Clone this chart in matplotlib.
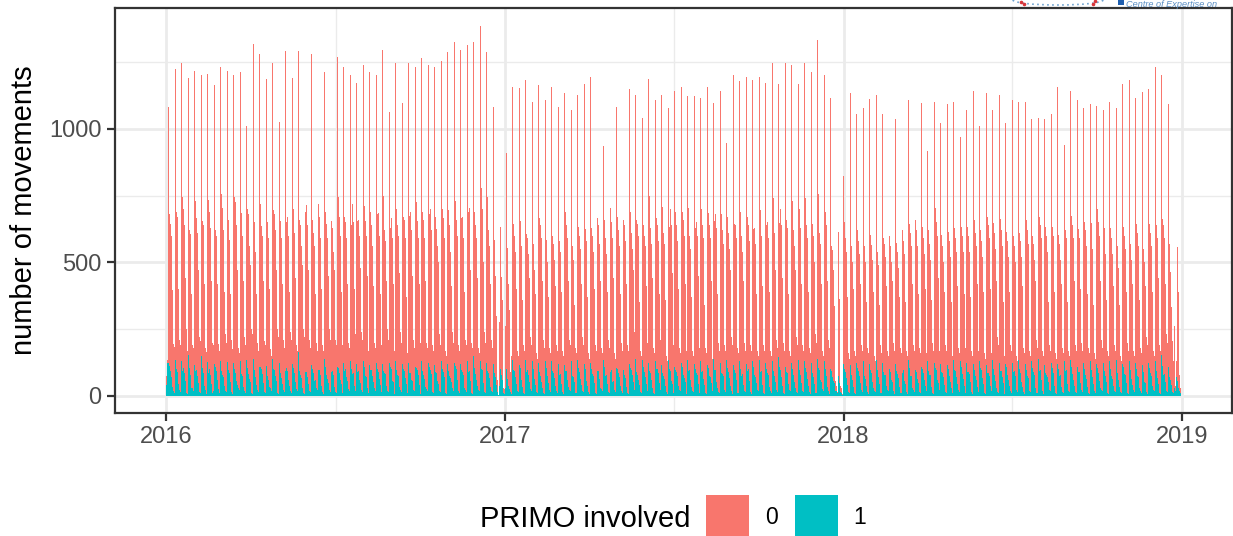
import numpy as np
import pandas as pd
import matplotlib
matplotlib.use("Agg")
import matplotlib.pyplot as plt
from matplotlib.patches import Rectangle, Arc
from matplotlib.lines import Line2D

plt.rcParams['font.family'] = ['Liberation Sans', 'DejaVu Sans']

# first days of 2016 (Fri, Sat, Sun) then weekly columns starting on Monday 2016-01-04
head_total = [5, 76, 135]
head_primo = [0, 40, 125]
total_mon = [1080,1222,1248,1191,1218,1203,1206,1162,1231,1218,1200,1212,1012,
1318,1278,1188,1248,1024,1290,1191,1290,1076,1278,1237,1211,1140,
1267,1230,1200,1173,1237,1211,1200,1296,1061,1248,1095,1245,1233,
1263,1237,1233,1252,1286,1323,1293,1312,1323,1383,1286,1080,275,
911,1155,1151,1181,1099,1162,1106,1155,1080,1132,1072,1128,1166,
1192,1102,937,1192,1080,1185,1147,1125,1039,1185,1106,1128,1076,
1143,1158,1121,1121,1117,1155,1095,1140,945,1200,1177,1192,1181,
1192,1170,1248,1166,1248,1237,1166,1248,1211,1334,1200,1117,14,
825,1132,1054,1076,1110,1128,1054,1114,1035,1005,1106,1005,1095,
915,1099,1020,1091,1102,971,1072,1143,1012,1132,1072,1125,1021,
1106,1099,1102,1035,1042,1035,1057,1158,941,1143,1106,1076,1091,
1084,1072,1099,1076,1166,1181,1114,1136,1147,1230,1200,1091,260,473]
total_tue = [681,690,745,620,730,655,735,620,755,660,745,685,700,
650,720,660,695,680,650,700,660,690,660,720,690,655,
745,670,640,655,710,690,680,750,630,700,670,672,725,
690,682,668,700,695,730,665,688,690,780,745,585,634,
553,642,653,607,567,667,582,597,615,687,589,632,653,
627,667,660,705,669,657,687,660,638,747,667,709,634,
690,687,705,627,700,683,653,680,669,642,687,668,624,
695,638,739,649,657,728,698,739,642,754,690,563,612,
650,604,620,601,601,569,593,597,574,620,645,657,634,
620,702,604,615,630,632,632,657,620,670,649,664,615,
597,608,657,600,668,632,634,601,620,672,626,652,649,
698,630,627,560,634,593,642,582,642,690,664,615,38]
total_wed = [642,668,700,605,665,640,690,600,705,640,725,660,680,
610,635,650,680,655,670,700,640,715,610,670,645,630,
670,650,720,660,655,640,685,620,665,640,660,690,655,
660,700,625,665,640,660,670,705,640,700,620,450,444,
500,600,620,590,550,640,555,570,580,640,560,600,625,
600,640,590,650,620,640,610,645,600,630,640,610,700,
640,660,600,650,640,640,680,620,610,640,600,640,630,
600,650,610,700,630,620,680,640,660,610,690,545,503,
590,560,580,560,565,540,570,560,540,580,610,620,590,
570,650,560,580,590,600,600,610,580,640,610,620,580,
560,580,620,570,640,600,600,570,590,640,590,620,610,
650,590,590,530,600,570,610,550,610,640,640,570,130]
total_thu = [597,600,640,570,610,590,630,560,620,585,640,600,560,
540,600,590,620,590,600,610,560,640,560,590,590,540,
600,590,650,600,600,560,600,580,590,600,590,620,590,
590,620,560,590,540,600,590,640,590,630,560,400,360,
420,540,560,530,470,590,500,510,540,590,510,550,580,
540,570,530,590,560,580,550,600,560,570,580,570,640,
580,600,550,600,590,590,630,570,550,590,540,580,570,
560,590,560,640,580,560,630,590,600,570,640,470,363,
540,500,530,500,510,490,520,500,480,530,560,560,530,
510,600,500,520,540,540,540,560,520,590,550,560,520,
500,520,570,510,590,540,540,510,530,590,530,560,550,
600,530,530,480,550,510,560,500,560,590,590,463,559]
total_fri = [395,400,440,380,470,420,430,420,390,380,470,430,490,
380,430,400,470,420,390,440,490,470,380,400,450,470,
390,420,400,480,450,410,380,430,420,460,370,450,420,
430,410,500,380,410,440,390,470,440,500,420,300,30,
320,400,360,440,380,430,370,410,390,430,340,420,370,
400,430,390,440,380,420,470,350,410,440,380,360,460,
400,420,370,450,340,430,380,390,470,360,430,400,380,
410,390,470,440,380,470,420,390,500,420,430,338,38,
370,400,420,350,390,340,410,430,370,350,420,380,400,
360,440,390,350,410,380,370,420,390,400,430,350,390,
370,410,380,430,360,350,390,420,350,430,400,380,340,
430,360,410,340,390,420,360,410,390,440,420,332,390]
total_sat = [195,210,250,190,220,180,200,195,230,210,180,220,250,
200,205,175,250,210,240,190,250,210,200,190,250,210,
190,200,230,240,170,200,190,250,190,240,180,210,240,
200,190,230,170,240,190,210,200,180,240,210,60,25,
90,170,190,220,160,210,180,190,170,210,180,220,160,
190,180,210,160,200,190,240,170,200,180,210,150,220,
180,200,170,210,180,160,200,190,220,180,200,190,170,
190,170,210,200,170,220,190,180,230,170,210,57,30,
160,170,190,180,150,190,170,200,180,170,190,180,160,
200,170,190,150,180,210,170,190,160,180,220,170,190,
150,180,170,210,170,190,160,180,170,190,200,180,160,
210,170,190,150,200,170,180,220,170,190,230,207,80]
total_sun = [182,190,170,180,205,165,190,170,200,175,160,190,230,
170,190,150,220,180,210,170,220,180,170,170,210,190,
170,180,190,210,150,180,170,210,170,200,160,180,200,
180,170,190,150,200,170,190,180,160,200,180,5,260,
150,150,170,190,140,180,160,170,150,190,160,190,140,
170,160,180,140,170,170,200,150,170,160,180,130,190,
160,170,150,180,160,140,170,170,190,160,170,170,150,
170,150,180,170,150,190,170,160,200,150,180,38,7,
140,150,170,160,130,160,150,170,160,150,170,160,140,
170,150,170,130,160,180,150,170,140,160,190,150,170,
130,160,150,180,150,170,140,160,150,170,170,160,140,
180,150,170,130,170,150,160,190,150,170,200,132,30]

primo_mon = [125,135,130,155,115,150,128,120,130,128,125,130,135,
140,110,113,140,125,95,118,165,113,115,128,138,130,
110,125,130,120,130,115,125,120,125,130,120,125,110,
130,125,115,130,120,125,118,130,150,130,125,120,38,
100,135,115,135,130,125,130,130,120,115,130,135,120,
125,115,135,130,105,130,120,140,135,125,130,115,135,
110,125,135,120,130,115,140,125,135,115,130,120,130,
135,125,130,145,110,125,135,130,125,140,130,100,10,
120,115,125,130,120,135,125,110,120,130,135,125,110,
130,125,120,115,135,130,125,120,130,115,135,125,120,
125,135,120,130,140,115,125,120,130,135,110,125,130,
120,125,130,135,120,130,125,115,125,130,155,110,30,60]
primo_tue = [112,100,95,104,92,105,86,110,92,96,100,82,105,
98,108,90,100,95,104,110,92,88,100,96,110,90,
105,94,100,88,108,96,100,92,110,98,100,86,104,
95,108,90,102,94,112,96,88,106,100,92,84,100,
62,96,104,90,100,88,106,94,100,92,86,104,96,
100,92,108,88,100,96,104,90,110,94,100,86,102,
96,108,92,100,90,106,98,86,104,96,100,92,108,
88,100,94,110,90,100,96,104,86,106,100,92,75,
100,92,104,88,96,108,90,100,94,86,106,96,100,
92,104,88,100,96,110,90,98,104,86,100,94,108,
90,100,96,104,92,86,106,100,94,108,88,100,96,
104,92,100,86,108,94,100,90,106,98,112,92,20]
primo_wed = [95,88,104,80,96,84,100,92,78,98,86,94,82,
88,100,76,96,84,92,104,80,90,86,98,78,94,
86,100,82,92,76,96,88,84,100,78,92,86,96,
80,98,84,90,76,100,88,94,82,96,84,72,80,
54,92,78,96,84,74,98,86,80,94,76,88,100,
82,92,74,96,86,80,98,78,90,84,100,76,92,
88,78,98,84,92,76,96,82,90,86,74,100,80,
92,84,76,98,86,78,94,88,80,96,74,72,60,
90,80,94,76,86,98,78,88,82,96,74,90,84,
78,96,86,74,92,82,88,76,98,84,80,92,78,
94,84,76,90,98,80,86,74,96,82,88,78,92,
84,94,76,88,82,98,74,90,86,94,80,70,70]
primo_thu = [70,62,84,58,74,66,80,60,72,84,56,76,64,
70,82,58,74,66,60,86,68,72,56,78,64,80,
60,72,84,58,70,76,62,82,56,74,68,60,78,
64,82,56,72,68,60,80,74,58,84,66,56,60,
36,70,60,78,62,54,74,66,82,58,72,64,56,
76,62,80,54,70,66,78,58,72,60,84,64,56,
74,66,58,80,62,72,54,76,68,60,82,56,70,
64,78,58,72,66,54,80,62,70,58,76,56,50,
66,58,76,62,54,72,80,60,68,56,74,64,58,
78,60,70,54,72,64,82,58,68,76,56,70,60,
74,54,66,78,60,70,56,80,64,58,74,62,70,
56,76,64,58,80,62,70,54,76,66,82,60,55]
primo_fri = [34,44,56,30,50,38,46,58,36,52,42,32,54,
40,48,34,56,44,36,52,30,46,58,38,50,34,
44,56,36,48,30,52,42,38,54,34,46,56,40,
32,50,44,36,54,42,30,56,38,48,34,40,10,
26,44,34,52,40,30,50,38,46,32,54,42,36,
48,30,44,56,38,34,52,40,46,30,50,36,44,
38,54,32,46,40,50,30,44,36,52,42,34,48,
40,32,52,38,46,30,50,36,44,54,34,50,15,
42,32,50,38,30,46,36,52,34,44,30,48,38,
34,50,40,30,46,36,52,32,44,38,30,50,36,
44,34,48,30,42,52,36,32,46,38,50,34,44,
30,52,38,34,48,42,30,50,36,44,52,42,30]
primo_sat = [18,24,12,30,16,22,10,26,18,14,28,20,12,
24,16,30,12,22,18,26,10,20,28,14,24,16,
12,26,18,22,10,28,16,20,14,24,12,22,18,
26,14,20,10,28,18,22,12,24,16,20,15,8,
14,20,12,26,16,10,24,18,14,22,12,20,16,
10,26,14,22,18,12,24,16,20,10,22,14,18,
24,12,20,16,10,26,14,22,18,12,20,16,24,
12,18,22,10,24,14,20,16,12,26,18,20,10,
16,10,22,14,20,12,24,18,10,16,22,14,20,
12,24,16,10,22,18,14,20,12,24,16,10,18,
22,14,20,12,18,24,10,16,20,14,22,12,18,
24,10,20,16,12,22,18,14,24,10,20,16,18,25]
primo_sun = [10,16,8,20,12,6,18,10,14,8,22,12,6,
16,10,20,8,14,12,18,6,14,22,8,16,10,
6,18,12,14,8,20,10,16,6,14,12,18,8,
20,10,14,6,18,12,16,8,20,10,14,3,30,
8,14,6,20,10,8,16,12,6,18,10,14,8,
6,20,10,14,12,8,18,10,14,6,16,8,12,
18,6,14,10,8,20,12,16,6,10,14,8,18,
6,12,16,8,18,10,14,6,12,20,8,20,3,
12,6,16,8,14,10,18,6,12,8,16,10,14,
8,18,10,6,16,12,8,14,6,18,10,8,12,
16,6,14,10,8,18,6,12,16,10,14,8,12,
18,6,14,10,8,16,12,6,18,8,14,10,12,15]

weekly_total = [total_mon, total_tue, total_wed, total_thu, total_fri, total_sat, total_sun]
weekly_primo = [primo_mon, primo_tue, primo_wed, primo_thu, primo_fri, primo_sat, primo_sun]

legend_title = "PRIMO involved"
legend_labels = ["0", "1"]
year_ticks = ["2016-01-01", "2017-01-01", "2018-01-01", "2019-01-01"]
year_labels = ["2016", "2017", "2018", "2019"]
mid_ticks = ["2016-07-02", "2017-07-02", "2018-07-02"]

RED, TEAL = "#F8766D", "#00BFC4"
W, H = 1233, 536


def flatten(head, columns):
    vals = list(head)
    for i in range(len(columns[0])):
        for col in columns:
            if i < len(col):
                vals.append(col[i])
    return vals


total = flatten(head_total, weekly_total)[:1096]
primo = flatten(head_primo, weekly_primo)[:1096]
dates = pd.date_range("2016-01-01", periods=len(total), freq="D")

fig = plt.figure(figsize=(W / 100, H / 100), dpi=100, facecolor="white")
ax = fig.add_axes([115 / W, 1 - 412.5 / H, (1232 - 115) / W, (412.5 - 8) / H])
ax.set_axisbelow(True)
ax.bar(dates, total, width=1.0, color=RED, linewidth=0, align="center", zorder=2, antialiased=False)
ax.bar(dates, primo, width=1.0, color=TEAL, linewidth=0, align="center", zorder=3, antialiased=False)

ax.set_xlim(pd.Timestamp("2016-01-01") - pd.Timedelta(days=55), pd.Timestamp("2016-01-01") + pd.Timedelta(days=1150))
ax.set_ylim(-62, 1452)
ax.set_xticks(pd.to_datetime(year_ticks))
ax.set_xticklabels(year_labels)
ax.set_xticks(pd.to_datetime(mid_ticks), minor=True)
ax.set_yticks([0, 500, 1000])
ax.set_yticks([250, 750, 1250], minor=True)
ax.grid(True, which="major", color="#EBEBEB", linewidth=2.0, zorder=0)
ax.grid(True, which="minor", color="#EBEBEB", linewidth=1.0, zorder=0)
ax.tick_params(which="major", length=5.8, width=1.6, color="#333333", labelcolor="#4D4D4D", labelsize=17, pad=4)
ax.tick_params(which="minor", length=0)
for s in ax.spines.values():
    s.set_color("#333333")
    s.set_linewidth(1.6)
ax.set_ylabel("number of movements", fontsize=21, color="black")
ax.yaxis.set_label_coords((38 - 115) / (1232 - 115), 0.5)

# legend
fig.text(480 / W, 1 - 519 / H, legend_title, fontsize=21, ha="left", va="center", color="black")
for x0, c, lab, tx in [(706, RED, legend_labels[0], 771), (795, TEAL, legend_labels[1], 860)]:
    fig.add_artist(Rectangle((x0 / W, 1 - 537 / H), 43 / W, 42 / H, transform=fig.transFigure, facecolor=c, edgecolor="none"))
    fig.text(tx / W, 1 - 518 / H, lab, fontsize=16.5, ha="center", va="center", color="black")

# clipped logo at the top right
fig.text(1126.5 / W, 1 - 7 / H, "Centre of Expertise on", fontsize=6.6, style="italic", color="#5B8FC4", ha="left", va="baseline")
fig.add_artist(Rectangle((1118 / W, 1 - 5 / H), 6 / W, 5 / H, transform=fig.transFigure, facecolor="#1F5FAF", edgecolor="none"))
fig.add_artist(Arc((1058 / W, 1), 90 / W, 10 / H, theta1=180, theta2=360, transform=fig.transFigure,
                   color="#6FA3D0", linewidth=1.2, linestyle=(0, (1, 2))))
for px, py in [(1021, 2), (1024, 4), (1093, 4), (1095, 1)]:
    fig.add_artist(Line2D([px / W], [1 - py / H], marker="o", markersize=1.6, color="#D8363A", linestyle="none", transform=fig.transFigure))

fig.savefig("out.png", dpi=100, facecolor="white")
